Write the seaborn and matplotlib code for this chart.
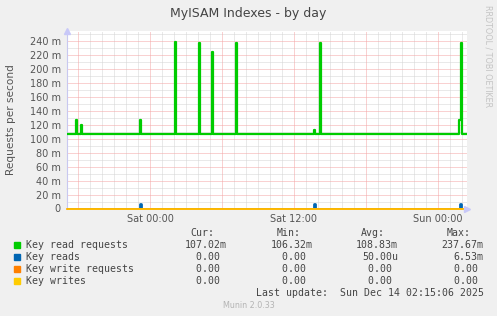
import numpy as np
import pandas as pd
import matplotlib
matplotlib.use("Agg")
import matplotlib.pyplot as plt
import seaborn as sns

# ---------------- data (minutes relative to Sat 00:00) ----------------
read_req_min = [-416, -390, -385, -370, -365, -360, -355, -345, -340, -280, -275,
                -250, -245, -230, -225, -115, -110, -75, -70, -50, -45, -30, -25,
                0, 5, 35, 40, 55, 60, 105, 110, 125, 130, 165, 170, 195, 200,
                245, 250, 300, 305, 310, 315, 345, 350, 400, 405, 430, 435,
                445, 450, 520, 525, 625, 630, 685, 690, 705, 710, 750, 755,
                805, 810, 820, 825, 835, 840, 850, 855, 935, 940, 950, 955,
                985, 990, 1040, 1045, 1055, 1060, 1090, 1095, 1135, 1140,
                1175, 1180, 1205, 1210, 1250, 1255, 1290, 1295, 1415, 1420,
                1450, 1455, 1510, 1515, 1545, 1555, 1560, 1585]
read_req_val = [107.0, 106.3, 107.0, 126.0, 107.0, 106.3, 107.0, 120.0, 107.0, 106.3, 107.0,
                106.3, 107.0, 106.3, 107.0, 106.3, 107.0, 106.3, 107.0, 126.0, 107.0, 106.3, 107.0,
                106.3, 107.0, 106.3, 107.0, 106.3, 107.0, 106.3, 107.0, 237.67, 107.0, 106.3, 107.0, 106.3, 107.0,
                237.5, 107.0, 106.3, 107.0, 224.0, 107.0, 106.3, 107.0, 106.3, 107.0, 237.5, 107.0,
                106.3, 107.0, 106.3, 107.0, 106.3, 107.0, 106.3, 107.0, 106.3, 107.0, 106.3, 107.0,
                106.3, 107.0, 113.0, 107.0, 106.3, 107.0, 237.5, 107.0, 106.3, 107.0, 106.3, 107.0,
                106.3, 107.0, 106.3, 107.0, 106.3, 107.0, 106.3, 107.0, 106.3, 107.0,
                106.3, 107.0, 106.3, 107.0, 106.3, 107.0, 106.3, 107.0, 106.3, 107.0,
                106.3, 107.0, 106.3, 107.0, 126.0, 237.5, 107.02, 107.02]

reads_min = [-416, -50, -45, 820, 825, 1550, 1555, 1585]
reads_val = [0.0, 6.53, 0.0, 6.2, 0.0, 6.4, 0.0, 0.0]

write_req_min = [-416, 1585]
write_req_val = [0.0, 0.0]
writes_min = [-416, 1585]
writes_val = [0.0, 0.0]

series_names = ["Key read requests", "Key reads", "Key write requests", "Key writes"]
series_colors = ["#00cc00", "#0066b3", "#ff8000", "#ffcc00"]
cur_vals = ["107.02m", "0.00 ", "0.00 ", "0.00 "]
min_vals = ["106.32m", "0.00 ", "0.00 ", "0.00 "]
avg_vals = ["108.83m", "50.00u", "0.00 ", "0.00 "]
max_vals = ["237.67m", "6.53m", "0.00 ", "0.00 "]

x_tick_hours = [0, 12, 24]
x_tick_labels = ["Sat 00:00", "Sat 12:00", "Sun 00:00"]
y_ticks = list(range(0, 250, 20))
y_tick_labels = ["0"] + [f"{v} m" for v in y_ticks[1:]]

title = "MyISAM Indexes - by day"
ylabel = "Requests per second"
last_update = "Last update:  Sun Dec 14 02:15:06 2025"
footer = "Munin 2.0.33"
side_text = "RRDTOOL / TOBI OETIKER"

# ---------------- figure ----------------
sns.set_style("white")
plt.rcParams["font.family"] = ["DejaVu Sans"]
W, H = 497, 316
fig = plt.figure(figsize=(W / 100, H / 100), dpi=100, facecolor="#f0f0f0")

px_l, px_r, px_t, px_b = 66.5, 467.0, 31.0, 208.5
ax = fig.add_axes([px_l / W, 1 - px_b / H, (px_r - px_l) / W, (px_b - px_t) / H])
ax.set_facecolor("white")

x_left_h = (px_l - 150) / 12.0
x_right_h = (px_r - 150) / 12.0
ax.set_xlim(x_left_h, x_right_h)
ax.set_ylim(0, 254)

# grids
gkw = dict(lw=0.72, ls=(0, (1, 1)))
for h in np.arange(-6, 27, 1):
    if h % 6 != 0:
        ax.axvline(h, color="#d4d4d4", zorder=1, **gkw)
for v in range(10, 255, 20):
    ax.axhline(v, color="#d4d4d4", zorder=1, **gkw)
for h in range(-6, 27, 6):
    ax.axvline(h, color="#f4a4a4", zorder=1.5, **gkw)
for v in range(20, 255, 20):
    ax.axhline(v, color="#f4a4a4", zorder=1.5, **gkw)

def frame(mins, vals):
    return pd.DataFrame({"h": np.array(mins) / 60.0, "v": vals})

sns.lineplot(data=frame(read_req_min, read_req_val), x="h", y="v", ax=ax,
             color=series_colors[0], lw=1.6, drawstyle="steps-post", zorder=3,
             estimator=None, sort=False)
sns.lineplot(data=frame(reads_min, reads_val), x="h", y="v", ax=ax,
             color=series_colors[1], lw=2.0, drawstyle="steps-post", zorder=4,
             estimator=None, sort=False)
sns.lineplot(data=frame(write_req_min, write_req_val), x="h", y="v", ax=ax,
             color=series_colors[2], lw=1.3, zorder=5, estimator=None, sort=False,
             clip_on=False)
sns.lineplot(data=frame(writes_min, writes_val), x="h", y="v", ax=ax,
             color=series_colors[3], lw=1.3, zorder=6, estimator=None, sort=False,
             clip_on=False, alpha=0.8)

ax.set_xlabel("")
ax.set_ylabel("")

# spines/axes
for s in ["top", "right", "bottom"]:
    ax.spines[s].set_visible(False)
ax.spines["left"].set_color("#c8c8f0")
ax.spines["left"].set_linewidth(0.8)
ax.plot([1.0], [0], marker=">", color="#c8c8f8", ms=5, transform=ax.transAxes,
        clip_on=False, zorder=7)
ax.plot([0], [1.0], marker="^", color="#c8c8f8", ms=5, transform=ax.transAxes,
        clip_on=False, zorder=7)

ax.set_xticks(x_tick_hours)
ax.set_xticklabels(x_tick_labels, fontsize=7, color="#555555")
ax.set_yticks(y_ticks)
ax.set_yticklabels(y_tick_labels, fontsize=7, color="#555555")
ax.tick_params(axis="both", length=2, width=0.6, color="#c8c8c8", pad=2)

# texts
fig.text(248 / W, 1 - 13 / H, title, ha="center", va="center", fontsize=9, color="#444444")
fig.text(10.8 / W, 1 - 119.5 / H, ylabel, ha="center", va="center", rotation=90,
         fontsize=7.6, color="#555555")
fig.text(488 / W, 1 - 56 / H, side_text, ha="center", va="center", rotation=270,
         fontsize=5.8, color="#c4c4c4")

mono = "DejaVu Sans Mono"
fs = 7.15
hy = 233.5
for x, lab in zip([190.3, 276.3, 361.3, 447.0], ["Cur:", "Min:", "Avg:", "Max:"]):
    fig.text(x / W, 1 - hy / H, lab, ha="left", va="center", family=mono, fontsize=fs,
             color="#444444")
row_y = [245.3, 257.5, 269.5, 281.5]
for i, name in enumerate(series_names):
    y = row_y[i]
    fig.patches.append(plt.Rectangle((14 / W, 1 - (y + 2.8) / H), 6 / W, 6 / H,
                                     transform=fig.transFigure, color=series_colors[i]))
    fig.text(26.3 / W, 1 - y / H, name, ha="left", va="center", family=mono, fontsize=fs,
             color="#444444")
    for xr, col in zip([226.5, 312.5, 398.0, 483.5], [cur_vals, min_vals, avg_vals, max_vals]):
        fig.text(xr / W, 1 - y / H, col[i], ha="right", va="center", family=mono,
                 fontsize=fs, color="#444444")
fig.text(483.5 / W, 1 - 293.3 / H, last_update, ha="right", va="center", family=mono,
         fontsize=fs, color="#444444")
fig.text(249 / W, 1 - 305.3 / H, footer, ha="center", va="center", fontsize=5.8,
         color="#b4b4b4")

fig.savefig("out.png", dpi=100, facecolor=fig.get_facecolor())
